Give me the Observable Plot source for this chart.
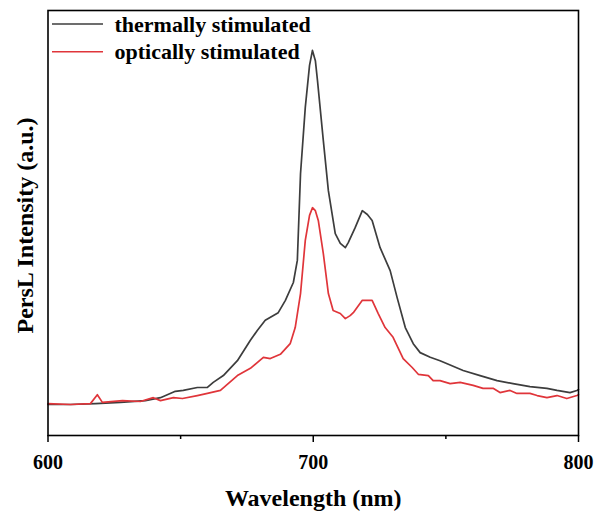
<!DOCTYPE html>
<html>
<head>
<meta charset="utf-8">
<script src="https://cdn.jsdelivr.net/npm/d3@7"></script>
<script src="https://cdn.jsdelivr.net/npm/@observablehq/plot@0.6"></script>
<style>
  html, body { margin: 0; padding: 0; background: #fff; }
  #chart svg { display: block; }
</style>
</head>
<body>
<div id="chart"></div>
<script>
// ---- data ----
const seriesNames = ["thermally stimulated", "optically stimulated"];
const seriesColors = ["#3d3d3d", "#e0353a"];

const thermalWl = [600,608.5,617.9,627.3,636.7,642.4,648.0,651.0,656.3,660.1,662.3,666.1,671.4,676.3,678.9,681.9,686.8,689.5,692.5,694.0,695.2,697.0,698.6,699.7,700.8,701.6,703.8,705.7,708.3,710.2,712.1,713.2,715.8,718.5,720.4,722.2,725.2,729.0,731.6,734.7,737.7,740.3,744.1,747.8,750.5,756.5,762.9,769.3,775.3,781.7,788.1,791.9,796.8,799.4,800];
const thermalVal = [7.3,7.3,7.5,7.8,8.2,8.9,10.4,10.6,11.3,11.3,12.5,14.1,17.6,22.4,24.7,27.1,28.9,31.8,36.0,41.2,61.6,77.2,87.1,90.6,88.2,83.5,69.4,57.6,47.5,45.2,44.2,45.4,48.9,52.9,52.0,50.6,44.2,38.8,32.5,25.4,21.6,19.5,18.4,17.6,16.9,15.3,14.1,12.9,12.2,11.5,11.1,10.6,10.1,10.6,10.8];

const opticalWl = [600,608.5,616.0,618.6,620.5,628.1,634.8,639.7,642.4,647.3,650.7,656.3,660.1,665.0,671.4,676.3,681.2,683.8,687.6,691.3,693.2,695.2,697.0,698.6,699.7,700.8,701.9,703.8,705.7,707.5,710.2,712.1,713.9,715.1,718.5,720.4,722.2,724.5,727.1,730.1,733.9,737.3,739.6,743.4,745.2,747.8,751.6,755.4,760.3,764.0,767.8,770.4,774.2,776.8,781.7,784.4,788.1,791.9,795.6,799.4,800];
const opticalVal = [7.5,7.3,7.5,9.6,7.8,8.2,8.0,8.9,8.2,8.9,8.7,9.4,9.9,10.6,14.1,15.8,18.4,18.1,19.1,21.6,25.4,33.4,45.9,51.8,53.6,52.9,50.6,42.8,33.4,29.4,28.7,27.5,28.2,28.9,31.8,31.8,31.8,28.7,25.4,23.1,18.1,16.0,14.4,14.1,12.9,12.9,12.2,12.5,11.8,11.1,11.1,10.1,10.6,9.9,9.9,9.4,8.9,9.4,8.7,9.4,9.6];

const majorTicks = [600, 700, 800];
const minorTicks = [650, 750];
const xLabel = "Wavelength (nm)";
const yLabel = "PersL Intensity (a.u.)";

// ---- build table ----
const rows = [];
thermalWl.forEach((w, i) => rows.push({wl: w, v: thermalVal[i], s: seriesNames[0]}));
opticalWl.forEach((w, i) => rows.push({wl: w, v: opticalVal[i], s: seriesNames[1]}));

const font = "'Liberation Serif', 'Times New Roman', serif";
const legendRowGap = 27.7;
const legendTop = 14;

// legend swatches drawn relative to the plot frame
function legendSwatches(index, scales, values, dims) {
  const g = d3.create("svg:g");
  seriesNames.forEach((n, k) => {
    const y = dims.marginTop + legendTop + k * legendRowGap;
    g.append("line")
      .attr("x1", dims.marginLeft + 4.5).attr("x2", dims.marginLeft + 55.5)
      .attr("y1", y).attr("y2", y)
      .attr("stroke", seriesColors[k]).attr("stroke-width", 1.6);
  });
  return g.node();
}

const legendTexts = seriesNames.map((n, k) =>
  Plot.text([n], {frameAnchor: "top-left", dx: 66.5, dy: legendTop + k * legendRowGap, text: d => d,
    textAnchor: "start", lineAnchor: "middle", fontSize: 22, fontWeight: "bold", fill: "#000"})
);

const chart = Plot.plot({
  width: 600,
  height: 517,
  marginLeft: 47.5,
  marginRight: 22,
  marginTop: 10,
  marginBottom: 82,
  style: {fontFamily: font, background: "#fff"},
  x: {domain: [600, 800]},
  y: {domain: [0, 100]},
  color: {domain: seriesNames, range: seriesColors},
  marks: [
    Plot.line(rows, {x: "wl", y: "v", z: "s", stroke: "s", strokeWidth: 1.7}),
    Plot.frame({stroke: "#000", strokeWidth: 1.6}),
    Plot.axisX(majorTicks, {tickSize: 7, tickPadding: 12, fontSize: 20, fontWeight: "bold", fill: "#000", stroke: "#000", strokeWidth: 1.5, label: null, tickFormat: d => String(d)}),
    Plot.axisX(minorTicks, {tickSize: 4, text: null, stroke: "#000", strokeWidth: 1.5, label: null}),
    Plot.axisY([], {label: null}),
    Plot.text([xLabel], {frameAnchor: "bottom", dy: 63, lineAnchor: "middle", text: d => d, fontSize: 24, fontWeight: "bold", fill: "#000"}),
    Plot.text([yLabel], {frameAnchor: "left", dx: -23, dy: 2.5, rotate: -90, textAnchor: "middle", lineAnchor: "middle", text: d => d, fontSize: 24, fontWeight: "bold", fill: "#000"}),
    legendSwatches,
    ...legendTexts
  ]
});
document.getElementById("chart").appendChild(chart);
</script>
</body>
</html>
